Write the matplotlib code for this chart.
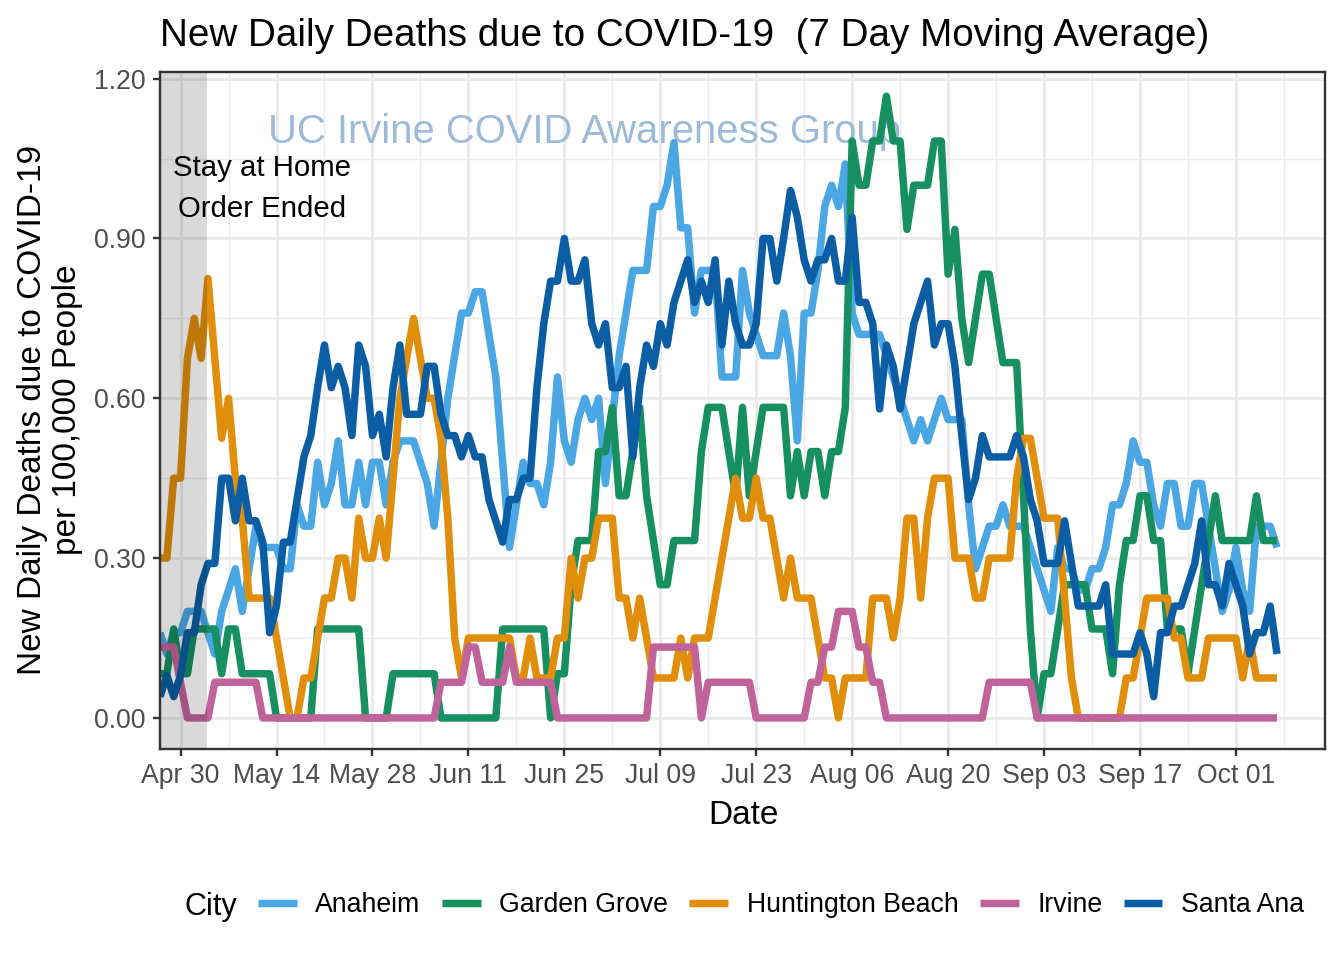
import pandas as pd
import matplotlib
matplotlib.use('Agg')
import matplotlib.pyplot as plt
import matplotlib.dates as mdates
from matplotlib.lines import Line2D
from matplotlib.ticker import MultipleLocator, FormatStrFormatter

plt.rcParams['font.family'] = ['Liberation Sans', 'DejaVu Sans']

# 7 day moving average, one value per day from Apr 27
start_date = '2020-04-27'
cities = ['Anaheim', 'Garden Grove', 'Huntington Beach', 'Irvine', 'Santa Ana']
colors = ['#4BA7E3', '#168F61', '#E08E0B', '#C0639A', '#0B5EA4']

anaheim = [
    0.16, 0.12, 0.16, 0.16, 0.20, 0.20, 0.20, 0.16, 0.12, 0.20,
    0.24, 0.28, 0.20, 0.28, 0.36, 0.32, 0.32, 0.32, 0.28, 0.28,
    0.40, 0.36, 0.36, 0.48, 0.40, 0.44, 0.52, 0.40, 0.40, 0.48,
    0.40, 0.48, 0.48, 0.40, 0.48, 0.52, 0.52, 0.52, 0.48, 0.44,
    0.36, 0.48, 0.60, 0.68, 0.76, 0.76, 0.80, 0.80, 0.72, 0.64,
    0.48, 0.32, 0.40, 0.48, 0.44, 0.44, 0.40, 0.48, 0.64, 0.52,
    0.48, 0.56, 0.60, 0.56, 0.60, 0.44, 0.56, 0.68, 0.76, 0.84,
    0.84, 0.84, 0.96, 0.96, 1.00, 1.08, 0.92, 0.92, 0.76, 0.84,
    0.84, 0.84, 0.64, 0.64, 0.64, 0.84, 0.76, 0.72, 0.68, 0.68,
    0.68, 0.76, 0.68, 0.52, 0.76, 0.76, 0.84, 0.96, 1.00, 0.96,
    1.04, 0.76, 0.72, 0.72, 0.72, 0.72, 0.68, 0.64, 0.60, 0.56,
    0.52, 0.56, 0.52, 0.56, 0.60, 0.56, 0.56, 0.56, 0.40, 0.28,
    0.32, 0.36, 0.36, 0.40, 0.36, 0.36, 0.36, 0.32, 0.28, 0.24,
    0.20, 0.32, 0.28, 0.28, 0.24, 0.24, 0.28, 0.28, 0.32, 0.40,
    0.40, 0.44, 0.52, 0.48, 0.48, 0.40, 0.36, 0.44, 0.44, 0.36,
    0.36, 0.44, 0.44, 0.36, 0.28, 0.20, 0.24, 0.32, 0.24, 0.20,
    0.36, 0.36, 0.36, 0.32]

garden_grove = [
    0.083, 0.083, 0.167, 0.083, 0.083, 0.167, 0.167, 0.167, 0.167, 0.083,
    0.167, 0.167, 0.083, 0.083, 0.083, 0.083, 0.083, 0, 0, 0,
    0, 0, 0, 0.167, 0.167, 0.167, 0.167, 0.167, 0.167, 0.167,
    0, 0, 0, 0, 0.083, 0.083, 0.083, 0.083, 0.083, 0.083,
    0.083, 0, 0, 0, 0, 0, 0, 0, 0, 0,
    0.167, 0.167, 0.167, 0.167, 0.167, 0.167, 0.167, 0, 0.083, 0.083,
    0.25, 0.333, 0.333, 0.333, 0.5, 0.5, 0.583, 0.417, 0.417, 0.5,
    0.583, 0.417, 0.333, 0.25, 0.25, 0.333, 0.333, 0.333, 0.333, 0.5,
    0.583, 0.583, 0.583, 0.5, 0.417, 0.583, 0.417, 0.5, 0.583, 0.583,
    0.583, 0.583, 0.417, 0.5, 0.417, 0.5, 0.5, 0.417, 0.5, 0.5,
    0.583, 1.083, 1.0, 1.0, 1.083, 1.083, 1.167, 1.083, 1.083, 0.917,
    1.0, 1.0, 1.0, 1.083, 1.083, 0.833, 0.917, 0.75, 0.667, 0.75,
    0.833, 0.833, 0.75, 0.667, 0.667, 0.667, 0.417, 0.167, 0, 0.083,
    0.083, 0.167, 0.25, 0.25, 0.25, 0.25, 0.167, 0.167, 0.167, 0.083,
    0.25, 0.333, 0.333, 0.417, 0.417, 0.333, 0.333, 0.167, 0.167, 0.167,
    0.083, 0.167, 0.25, 0.333, 0.417, 0.333, 0.333, 0.333, 0.333, 0.333,
    0.417, 0.333, 0.333, 0.333]

huntington_beach = [
    0.30, 0.30, 0.45, 0.45, 0.675, 0.75, 0.675, 0.825, 0.675, 0.525,
    0.60, 0.45, 0.375, 0.225, 0.225, 0.225, 0.225, 0.15, 0.075, 0,
    0, 0.075, 0.075, 0.15, 0.225, 0.225, 0.30, 0.30, 0.225, 0.375,
    0.30, 0.30, 0.375, 0.30, 0.45, 0.60, 0.675, 0.75, 0.675, 0.60,
    0.60, 0.525, 0.375, 0.15, 0.075, 0.15, 0.15, 0.15, 0.15, 0.15,
    0.15, 0.15, 0.075, 0.075, 0.15, 0.075, 0.075, 0.075, 0.15, 0.15,
    0.30, 0.225, 0.30, 0.30, 0.375, 0.375, 0.375, 0.225, 0.225, 0.15,
    0.225, 0.15, 0.075, 0.075, 0.075, 0.075, 0.15, 0.075, 0.15, 0.15,
    0.15, 0.225, 0.30, 0.375, 0.45, 0.375, 0.375, 0.45, 0.375, 0.375,
    0.30, 0.225, 0.30, 0.225, 0.225, 0.225, 0.15, 0.075, 0.075, 0,
    0.075, 0.075, 0.075, 0.075, 0.225, 0.225, 0.225, 0.15, 0.225, 0.375,
    0.375, 0.225, 0.375, 0.45, 0.45, 0.45, 0.30, 0.30, 0.30, 0.225,
    0.225, 0.30, 0.30, 0.30, 0.30, 0.45, 0.525, 0.525, 0.45, 0.375,
    0.375, 0.375, 0.225, 0.075, 0, 0, 0, 0, 0, 0,
    0, 0.075, 0.075, 0.15, 0.225, 0.225, 0.225, 0.225, 0.15, 0.15,
    0.075, 0.075, 0.075, 0.15, 0.15, 0.15, 0.15, 0.15, 0.075, 0.15,
    0.075, 0.075, 0.075, 0.075]

irvine = [
    0.133, 0.133, 0.133, 0.067, 0, 0, 0, 0, 0.067, 0.067,
    0.067, 0.067, 0.067, 0.067, 0.067, 0, 0, 0, 0, 0,
    0, 0, 0, 0, 0, 0, 0, 0, 0, 0,
    0, 0, 0, 0, 0, 0, 0, 0, 0, 0,
    0, 0.067, 0.067, 0.067, 0.067, 0.133, 0.133, 0.067, 0.067, 0.067,
    0.067, 0.133, 0.067, 0.067, 0.067, 0.067, 0.067, 0.067, 0, 0,
    0, 0, 0, 0, 0, 0, 0, 0, 0, 0,
    0, 0, 0.133, 0.133, 0.133, 0.133, 0.133, 0.133, 0.133, 0,
    0.067, 0.067, 0.067, 0.067, 0.067, 0.067, 0.067, 0, 0, 0,
    0, 0, 0, 0, 0, 0.067, 0.067, 0.133, 0.133, 0.2,
    0.2, 0.2, 0.133, 0.133, 0.067, 0.067, 0, 0, 0, 0,
    0, 0, 0, 0, 0, 0, 0, 0, 0, 0,
    0, 0.067, 0.067, 0.067, 0.067, 0.067, 0.067, 0.067, 0, 0,
    0, 0, 0, 0, 0, 0, 0, 0, 0, 0,
    0, 0, 0, 0, 0, 0, 0, 0, 0, 0,
    0, 0, 0, 0, 0, 0, 0, 0, 0, 0,
    0, 0, 0, 0]

santa_ana = [
    0.04, 0.08, 0.04, 0.08, 0.16, 0.16, 0.25, 0.29, 0.29, 0.45,
    0.45, 0.37, 0.45, 0.37, 0.37, 0.33, 0.16, 0.21, 0.33, 0.33,
    0.41, 0.49, 0.53, 0.62, 0.70, 0.62, 0.66, 0.62, 0.53, 0.70,
    0.66, 0.53, 0.57, 0.49, 0.62, 0.70, 0.57, 0.57, 0.57, 0.66,
    0.66, 0.57, 0.53, 0.53, 0.49, 0.53, 0.49, 0.49, 0.41, 0.37,
    0.33, 0.41, 0.41, 0.45, 0.45, 0.62, 0.74, 0.82, 0.82, 0.90,
    0.82, 0.82, 0.86, 0.74, 0.70, 0.74, 0.62, 0.62, 0.66, 0.49,
    0.62, 0.70, 0.66, 0.74, 0.70, 0.78, 0.82, 0.86, 0.78, 0.82,
    0.78, 0.86, 0.70, 0.82, 0.74, 0.70, 0.70, 0.74, 0.90, 0.90,
    0.82, 0.90, 0.99, 0.94, 0.86, 0.82, 0.86, 0.86, 0.90, 0.82,
    0.82, 0.94, 0.78, 0.78, 0.74, 0.58, 0.70, 0.66, 0.58, 0.66,
    0.74, 0.78, 0.82, 0.70, 0.74, 0.74, 0.66, 0.53, 0.41, 0.45,
    0.53, 0.49, 0.49, 0.49, 0.49, 0.53, 0.49, 0.41, 0.37, 0.29,
    0.29, 0.29, 0.37, 0.29, 0.21, 0.21, 0.21, 0.21, 0.25, 0.12,
    0.12, 0.12, 0.12, 0.16, 0.12, 0.04, 0.16, 0.16, 0.21, 0.21,
    0.25, 0.29, 0.37, 0.25, 0.25, 0.21, 0.29, 0.25, 0.21, 0.12,
    0.16, 0.16, 0.21, 0.12]

series = [anaheim, garden_grove, huntington_beach, irvine, santa_ana]
for s in series:
    assert len(s) == len(anaheim), len(s)

dates = pd.date_range(start_date, periods=len(anaheim), freq='D')

W, H = 1344, 960
LW = 2.8
fig = plt.figure(figsize=(7, 5), dpi=192)
ax = fig.add_axes([160 / W, 1 - 749 / H, (1325 - 160) / W, (749 - 72) / H])

# watermark behind the lines
ax.text(pd.Timestamp('2020-06-28'), 1.080, 'UC Irvine COVID Awareness Group',
        color='#9DBAD9', fontsize=15, ha='center', va='baseline', zorder=1)

for name, col, vals in zip(cities, colors, series):
    ax.plot(dates, vals, color=col, lw=LW, solid_joinstyle='round',
            solid_capstyle='butt', zorder=3, label=name)

# stay at home shading (drawn over the lines)
ax.axvspan(pd.Timestamp('2020-04-27'), pd.Timestamp('2020-05-03 19:00'),
           color='black', alpha=0.15, lw=0, zorder=4)
ax.text(pd.Timestamp('2020-05-11 22:00'), 1.018, 'Stay at Home',
        fontsize=11, ha='center', va='baseline', zorder=5)
ax.text(pd.Timestamp('2020-05-11 22:00'), 0.940, 'Order Ended',
        fontsize=11, ha='center', va='baseline', zorder=5)

ax.set_xlim(pd.Timestamp('2020-04-27'), pd.Timestamp('2020-10-14'))
ax.set_ylim(-0.0583, 1.2125)

major_ticks = pd.date_range('2020-04-30', '2020-10-01', freq='14D')
minor_ticks = pd.date_range('2020-05-07', '2020-10-08', freq='14D')
ax.set_xticks(major_ticks)
ax.set_xticks(minor_ticks, minor=True)
ax.xaxis.set_major_formatter(mdates.DateFormatter('%b %d'))
ax.yaxis.set_major_locator(MultipleLocator(0.3))
ax.yaxis.set_minor_locator(MultipleLocator(0.15))
ax.yaxis.set_major_formatter(FormatStrFormatter('%.2f'))

ax.grid(which='major', color='#EBEBEB', lw=1.1, zorder=0)
ax.grid(which='minor', color='#EBEBEB', lw=0.55, zorder=0)
ax.set_axisbelow(True)
ax.tick_params(which='major', length=2.75, width=0.9, color='#333333',
               labelsize=10, labelcolor='#4D4D4D', pad=2.6)
ax.tick_params(which='minor', length=0)
for sp in ax.spines.values():
    sp.set_color('#333333')
    sp.set_linewidth(0.9)
    sp.set_zorder(6)

fig.text(160 / W, 1 - 46 / H, 'New Daily Deaths due to COVID-19  (7 Day Moving Average)',
         fontsize=14.5, ha='left', va='baseline')
fig.text(743 / W, 1 - 824 / H, 'Date', fontsize=12.5, ha='center', va='baseline')
fig.text(50 / W, 1 - 410 / H, 'New Daily Deaths due to COVID-19\nper 100,000 People',
         fontsize=12.5, rotation=90, ha='center', va='center',
         multialignment='center', linespacing=1.15)

handles = [Line2D([], [], color=c, lw=LW, solid_capstyle='butt') for c in colors]
fig.legend(handles, cities, loc='center left', bbox_to_anchor=(258 / W, 1 - 905 / H),
           ncol=5, frameon=False, fontsize=10, handlelength=1.45,
           handletextpad=0.7, columnspacing=0.8, borderpad=0, borderaxespad=0)
fig.text(184 / W, 1 - 915 / H, 'City', fontsize=11.5, ha='left', va='baseline')

fig.savefig('out.png', dpi=192, facecolor='white')
